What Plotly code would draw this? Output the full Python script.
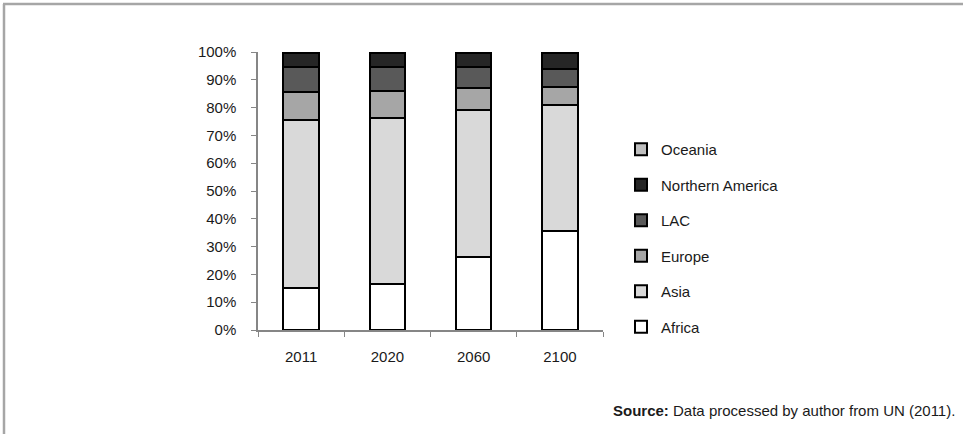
import plotly.graph_objects as go

years = ["2011", "2020", "2060", "2100"]
regions = ["Africa", "Asia", "Europe", "LAC", "Northern America", "Oceania"]
africa = [15.1, 16.5, 26.3, 35.5]
asia = [60.4, 59.8, 52.8, 45.3]
europe = [10.1, 9.7, 7.9, 6.6]
lac = [9.0, 8.6, 7.6, 6.6]
northern_america = [4.9, 4.9, 4.9, 5.5]
oceania = [0.5, 0.5, 0.5, 0.5]
series = [africa, asia, europe, lac, northern_america, oceania]
colors = ["#ffffff", "#d9d9d9", "#a6a6a6", "#595959", "#262626", "#bfbfbf"]
y_ticks = list(range(0, 101, 10))
y_labels = [f"{v}%" for v in y_ticks]

PL, PR, PT, PB = 258, 603, 52, 330
W, H = 963, 434

def px_x(px):
    return (px - PL) / (PR - PL)

def px_y(py):
    return (PB - py) / (PB - PT)

fig = go.Figure()
n = len(regions)
for i, (name, vals, col) in enumerate(zip(regions, series, colors)):
    fig.add_trace(go.Bar(
        x=years, y=vals, name=name, legendgroup=name, legendrank=n - i,
        marker=dict(color=col, line=dict(color="#000000", width=2)),
        width=0.41,
    ))

font = "Liberation Sans"
fig.update_layout(
    barmode="stack",
    width=W, height=H,
    margin=dict(l=PL, r=W - PR, t=PT, b=H - PB, pad=0),
    paper_bgcolor="white", plot_bgcolor="white",
    font=dict(family=font, size=15, color="#1a1a1a"),
    showlegend=True,
    legend=dict(
        x=px_x(621), y=px_y(133), xanchor="left", yanchor="top",
        traceorder="grouped", tracegroupgap=13,
        font=dict(family=font, size=15, color="#1a1a1a"),
        itemwidth=30, bgcolor="rgba(0,0,0,0)",
    ),
    xaxis=dict(
        type="category", showgrid=False, showline=True, linecolor="#868686", linewidth=1.5,
        ticks="outside", tickson="boundaries", ticklen=5, tickcolor="#868686",
        ticklabelstandoff=12,
        tickfont=dict(family=font, size=15, color="#1a1a1a"),
    ),
    yaxis=dict(
        range=[0, 100], tickvals=y_ticks, ticktext=y_labels, showgrid=False,
        showline=True, linecolor="#868686", linewidth=1.5,
        ticks="outside", ticklen=5, tickcolor="#868686",
        ticklabelstandoff=12,
        tickfont=dict(family=font, size=15, color="#1a1a1a"),
    ),
    shapes=[
        dict(type="line", xref="paper", yref="paper", x0=px_x(3), x1=px_x(963),
             y0=px_y(4), y1=px_y(4), line=dict(color="#a6a6a6", width=2.5)),
        dict(type="line", xref="paper", yref="paper", x0=px_x(4), x1=px_x(4),
             y0=px_y(4), y1=px_y(434), line=dict(color="#a6a6a6", width=2.5)),
    ],
    annotations=[
        dict(xref="paper", yref="paper", x=px_x(957), y=px_y(410), xanchor="right", yanchor="middle",
             text="<b>Source:</b> Data processed by author from UN (2011).", showarrow=False,
             font=dict(family=font, size=15, color="#1a1a1a")),
    ],
)

fig.write_html("out.html")
